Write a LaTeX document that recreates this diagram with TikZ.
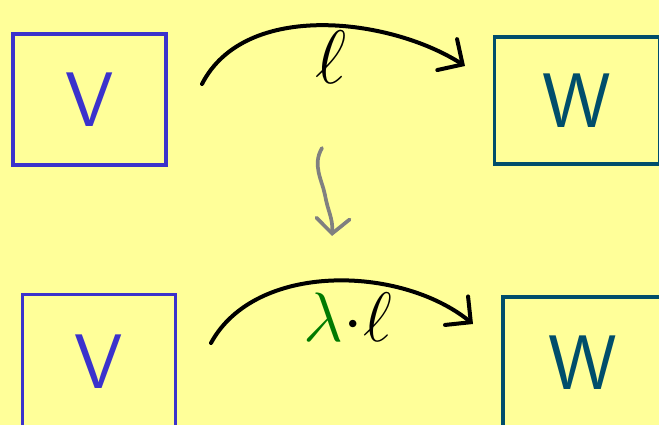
\documentclass[tikz,border=0pt]{standalone}
\usepackage{amsmath}
\usepackage{xcolor}
\usetikzlibrary{arrows.meta}
\definecolor{padyellow}{HTML}{FFFF99}
\definecolor{spaceblue}{HTML}{3B32CC}
\definecolor{spaceteal}{HTML}{004E6B}
\definecolor{scalargreen}{HTML}{007A00}

\begin{document}
\begin{tikzpicture}[
    x=0.03cm, y=-0.03cm,
    space/.style={draw, line width=1mm, minimum width=#1, inner sep=0pt,
        font=\sffamily\fontsize{66}{66}\selectfont},
    vspace/.style={space=4.59cm, minimum height=3.93cm, draw=spaceblue, text=spaceblue},
    wspace/.style={space=4.95cm, minimum height=3.8cm, draw=spaceteal, text=spaceteal},
    maplabel/.style={font=\Huge, scale=#1, transform shape, inner sep=0pt},
    map/.style={line width=1.2mm, line cap=round, {-Straight Barb[length=5.5mm, width=11mm, line cap=round]}},
    pass/.style={line width=1.1mm, line cap=round, draw=gray, {-Straight Barb[length=4.5mm, width=10mm, line cap=round]}}
]
\fill[padyellow] (0,0) rectangle (659,425);
\useasboundingbox (0,0) rectangle (659,425);

% top row
\node[vspace] (V1) at (89.5,99.5) {V};
\node[wspace] (W1) at (577,100.5) {W};
\coordinate (s1) at (202,84);
\coordinate (t1) at (465,66);
\draw[map] (s1) .. controls (245,0) and (390,18) .. (t1);
\node[maplabel=2.6] (l1) at (331,57) {$\ell$};

% bottom row
\node[vspace, minimum height=4.05cm] (V2) at (99,362) {V};
\node[wspace, minimum width=4.8cm, minimum height=3.95cm] (W2) at (583,363) {W};
\coordinate (s2) at (211,343);
\coordinate (t2) at (473,324);
\draw[map] (s2) .. controls (255,262) and (400,265) .. (t2);
\node[maplabel=2.4] (l2) at (348,317) {${\color{scalargreen}\lambda}{\cdot}\ell$};

% passage from top to bottom
\coordinate (p1) at (322,148);
\coordinate (p2) at (332,236);
\draw[pass] (p1) .. controls (312,165) and (322,180) .. (325,195)
    .. controls (328,212) and (333,218) .. (p2);
\end{tikzpicture}
\end{document}
